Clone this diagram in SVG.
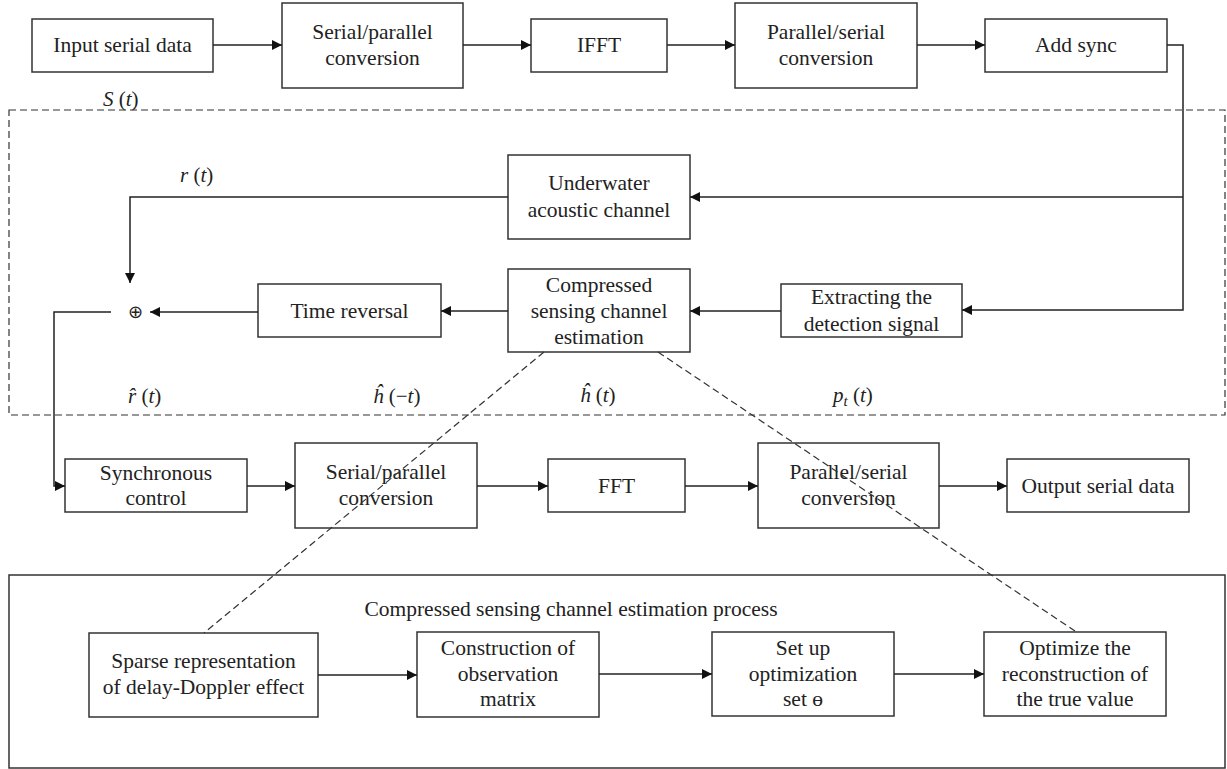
<svg xmlns="http://www.w3.org/2000/svg" width="1227" height="769" viewBox="0 0 1227 769">
<style>
.b{fill:none;stroke:#333;stroke-width:1.5}
.t{font-family:"Liberation Serif","Times New Roman",serif;font-size:21.5px;fill:#222;text-anchor:middle}
.v{font-family:"Liberation Serif","Times New Roman",serif;font-size:21px;fill:#222}
.i{font-style:italic}
.c{fill:none;stroke:#222;stroke-width:1.5}
.d{fill:none;stroke:#333;stroke-width:1.2;stroke-dasharray:7 4}
</style>
<defs>
<marker id="a" viewBox="0 0 10 10" refX="10" refY="5" markerWidth="10" markerHeight="10" markerUnits="userSpaceOnUse" orient="auto">
<path d="M0,0 L10,5 L0,10 z" fill="#111"/>
</marker>
</defs>
<rect x="9" y="110" width="1216" height="305" class="d"/>
<rect x="9" y="575" width="1216" height="193" class="b"/>
<g id="n-input"><rect class="b" x="32" y="19" width="181" height="53"/><text class="t" x="122.5" y="52">Input serial data</text></g>
<g id="n-sp1"><rect class="b" x="282" y="3" width="181" height="85"/><text class="t" x="372.5" y="39">Serial/parallel</text><text class="t" x="372.5" y="65">conversion</text></g>
<g id="n-ifft"><rect class="b" x="531" y="19" width="136" height="53"/><text class="t" x="599" y="52">IFFT</text></g>
<g id="n-ps1"><rect class="b" x="735" y="3" width="182" height="85"/><text class="t" x="826" y="39">Parallel/serial</text><text class="t" x="826" y="65">conversion</text></g>
<g id="n-sync"><rect class="b" x="985" y="19" width="182" height="53"/><text class="t" x="1076" y="52">Add sync</text></g>
<g id="n-uac"><rect class="b" x="508" y="155" width="182" height="84"/><text class="t" x="599" y="190">Underwater</text><text class="t" x="599" y="217">acoustic channel</text></g>
<g id="n-cse"><rect class="b" x="508" y="269" width="182" height="83"/><text class="t" x="599" y="292">Compressed</text><text class="t" x="599" y="318">sensing channel</text><text class="t" x="599" y="344">estimation</text></g>
<g id="n-tr"><rect class="b" x="258" y="284" width="183" height="53"/><text class="t" x="349.5" y="318">Time reversal</text></g>
<g id="n-ext"><rect class="b" x="781" y="284" width="181" height="53"/><text class="t" x="871.5" y="304">Extracting the</text><text class="t" x="871.5" y="331">detection signal</text></g>
<g id="n-sum"><text class="t" x="135" y="318" style="font-size:18px">⊕</text></g>
<g id="n-sc"><rect class="b" x="65" y="459" width="182" height="53"/><text class="t" x="156" y="480">Synchronous</text><text class="t" x="156" y="505">control</text></g>
<g id="n-sp2"><rect class="b" x="295" y="443" width="182" height="85"/><text class="t" x="386" y="479">Serial/parallel</text><text class="t" x="386" y="505">conversion</text></g>
<g id="n-fft"><rect class="b" x="548" y="459" width="137" height="53"/><text class="t" x="616.5" y="493">FFT</text></g>
<g id="n-ps2"><rect class="b" x="758" y="443" width="181" height="85"/><text class="t" x="848.5" y="479">Parallel/serial</text><text class="t" x="848.5" y="505">conversion</text></g>
<g id="n-out"><rect class="b" x="1007" y="459" width="182" height="53"/><text class="t" x="1098" y="493">Output serial data</text></g>
<g id="n-title"><text class="t" x="571" y="616">Compressed sensing channel estimation process</text></g>
<g id="n-sparse"><rect class="b" x="89" y="633" width="229" height="84"/><text class="t" x="203.5" y="668">Sparse representation</text><text class="t" x="203.5" y="694">of delay-Doppler effect</text></g>
<g id="n-cons"><rect class="b" x="417" y="632" width="182" height="85"/><text class="t" x="508" y="655">Construction of</text><text class="t" x="508" y="681">observation</text><text class="t" x="508" y="706">matrix</text></g>
<g id="n-setup"><rect class="b" x="712" y="632" width="182" height="84"/><text class="t" x="803" y="655">Set up</text><text class="t" x="803" y="681">optimization</text><text class="t" x="803" y="706">set ɵ</text></g>
<g id="n-opt"><rect class="b" x="984" y="632" width="182" height="84"/><text class="t" x="1075" y="655">Optimize the</text><text class="t" x="1075" y="681">reconstruction of</text><text class="t" x="1075" y="706">the true value</text></g>
<g id="connectors">
<path class="c" d="M213,45 H282" marker-end="url(#a)"/>
<path class="c" d="M463,45 H531" marker-end="url(#a)"/>
<path class="c" d="M667,45 H735" marker-end="url(#a)"/>
<path class="c" d="M917,45 H985" marker-end="url(#a)"/>
<path class="c" d="M1167,45 H1183 V310 H962" marker-end="url(#a)"/>
<path class="c" d="M1183,197 H690" marker-end="url(#a)"/>
<path class="c" d="M508,197 H130 V283" marker-end="url(#a)"/>
<path class="c" d="M781,311 H690" marker-end="url(#a)"/>
<path class="c" d="M508,311 H441" marker-end="url(#a)"/>
<path class="c" d="M258,312 H150" marker-end="url(#a)"/>
<path class="c" d="M111,312 H54 V486 H65" marker-end="url(#a)"/>
<path class="c" d="M247,486 H295" marker-end="url(#a)"/>
<path class="c" d="M477,486 H548" marker-end="url(#a)"/>
<path class="c" d="M685,486 H758" marker-end="url(#a)"/>
<path class="c" d="M939,486 H1007" marker-end="url(#a)"/>
<path class="c" d="M318,675 H417" marker-end="url(#a)"/>
<path class="c" d="M599,674 H712" marker-end="url(#a)"/>
<path class="c" d="M894,674 H984" marker-end="url(#a)"/>
<path class="d" d="M544,352 L204,633"/>
<path class="d" d="M658,352 L1075,631"/>
</g>
<g id="labels">
<text class="v" x="103" y="106"><tspan class="i">S</tspan> (<tspan class="i">t</tspan>)</text>
<text class="v" x="180" y="182"><tspan class="i">r</tspan> (<tspan class="i">t</tspan>)</text>
<text class="v" x="128" y="403"><tspan class="i">r̂</tspan> (<tspan class="i">t</tspan>)</text>
<text class="v" x="373" y="403"><tspan class="i">ĥ</tspan> (−<tspan class="i">t</tspan>)</text>
<text class="v" x="580" y="402"><tspan class="i">ĥ</tspan> (<tspan class="i">t</tspan>)</text>
<text class="v" x="833" y="402"><tspan class="i">p</tspan><tspan class="i" font-size="15" dy="4">t</tspan><tspan dy="-4"> (</tspan><tspan class="i">t</tspan>)</text>
</g>
</svg>
